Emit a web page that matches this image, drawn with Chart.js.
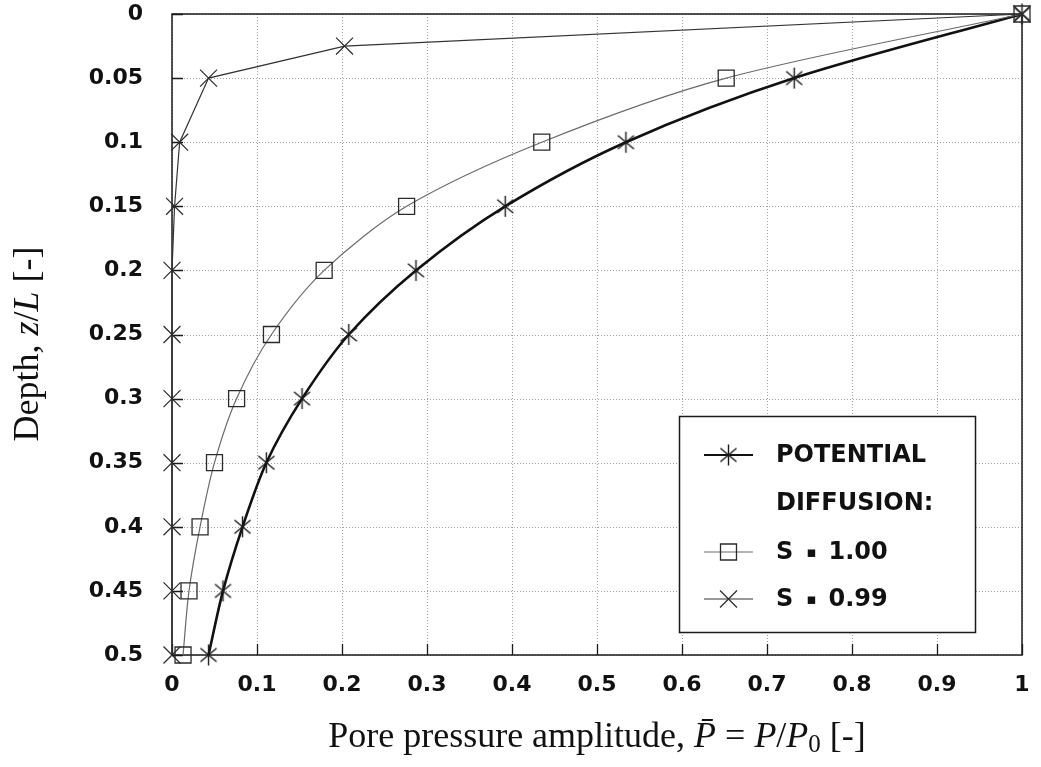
<!DOCTYPE html>
<html>
<head>
<meta charset="utf-8">
<script src="https://cdn.jsdelivr.net/npm/chart.js@4.4.1/dist/chart.umd.min.js"></script>
<style>
  html, body { margin: 0; padding: 0; background: #ffffff; }
  #plot { display: block; }
</style>
</head>
<body>
<canvas id="plot" width="1041" height="767"></canvas>
<script>
// Depth below the surface (z/L) at which the profiles are sampled
const depth = [0, 0.05, 0.1, 0.15, 0.2, 0.25, 0.3, 0.35, 0.4, 0.45, 0.5];
// Pore pressure amplitude P/P0, potential solution
const potential = [1, 0.732, 0.534, 0.392, 0.287, 0.208, 0.153, 0.111, 0.083, 0.060, 0.043];
// Pore pressure amplitude, diffusion solution with S = 1.00
const diffusionS100 = [1, 0.652, 0.435, 0.276, 0.179, 0.117, 0.076, 0.050, 0.033, 0.020, 0.013];
// Diffusion solution with S = 0.99 (extra sample at z/L = 0.025)
const depthS099 = [0, 0.025, 0.05, 0.1, 0.15, 0.2, 0.25, 0.3, 0.35, 0.4, 0.45, 0.5];
const diffusionS099 = [1, 0.203, 0.043, 0.009, 0.003, 0, 0, 0, 0, 0, 0, 0];

const xTickValues = [0, 0.1, 0.2, 0.3, 0.4, 0.5, 0.6, 0.7, 0.8, 0.9, 1];
const xTickLabels = ['0', '0.1', '0.2', '0.3', '0.4', '0.5', '0.6', '0.7', '0.8', '0.9', '1'];
const yTickValues = [0, 0.05, 0.1, 0.15, 0.2, 0.25, 0.3, 0.35, 0.4, 0.45, 0.5];
const yTickLabels = ['0', '0.05', '0.1', '0.15', '0.2', '0.25', '0.3', '0.35', '0.4', '0.45', '0.5'];
// legend rows: [name, value]; a small square bullet sits between them
const legendLabels = [['POTENTIAL', ''], ['DIFFUSION:', ''], ['S', '1.00'], ['S', '0.99']];

const SERIF = '"Liberation Serif", "DejaVu Serif", serif';
const TITLE_SIZE = 36;

// label lookup by tick value
function labelFor(values, labels, v) {
  let best = 0;
  values.forEach((t, i) => { if (Math.abs(t - v) < Math.abs(values[best] - v)) best = i; });
  return labels[best];
}

// Six-spoke asterisk marker used for the potential solution
function makeAsterisk(r, lw, color) {
  const size = Math.ceil(2 * r + 4);
  const c = document.createElement('canvas');
  c.width = size; c.height = size;
  const g = c.getContext('2d');
  const m = size / 2;
  g.strokeStyle = color;
  g.lineWidth = lw;
  g.beginPath();
  g.moveTo(m, m - r); g.lineTo(m, m + r);
  const a = 40 * Math.PI / 180;
  const dx = Math.cos(a) * r, dy = Math.sin(a) * r;
  g.moveTo(m - dx, m - dy); g.lineTo(m + dx, m + dy);
  g.moveTo(m - dx, m + dy); g.lineTo(m + dx, m - dy);
  g.stroke();
  return c;
}
const asterisk = makeAsterisk(10.5, 1.4, '#1a1a1a');

function toPoints(xs, ys) {
  return xs.map((v, i) => ({ x: v, y: ys[i] }));
}

// Draws a run of differently-styled text pieces along one baseline
function richWidth(ctx, segs) {
  let w = 0;
  for (const s of segs) { ctx.font = s.font; w += ctx.measureText(s.text).width; }
  return w;
}
function drawRich(ctx, segs, x, y) {
  let cx = x;
  for (const s of segs) {
    ctx.font = s.font;
    ctx.fillText(s.text, cx, y + (s.dy || 0));
    cx += ctx.measureText(s.text).width;
  }
}

const roman = `${TITLE_SIZE}px ${SERIF}`;
const italic = `italic ${TITLE_SIZE}px ${SERIF}`;
const small = `${Math.round(TITLE_SIZE * 0.7)}px ${SERIF}`;

const xTitle = [
  { text: 'Pore pressure amplitude, ', font: roman },
  { text: 'P\u0304', font: italic },
  { text: ' = ', font: roman },
  { text: 'P', font: italic },
  { text: '/', font: roman },
  { text: 'P', font: italic },
  { text: '0', font: small, dy: 5 },
  { text: ' [-]', font: roman }
];
const yTitle = [
  { text: 'Depth, ', font: roman },
  { text: 'z', font: italic },
  { text: '/', font: roman },
  { text: 'L', font: italic },
  { text: ' [-]', font: roman }
];

// Frame, dotted grid and inward tick marks
const framePlugin = {
  id: 'frame',
  beforeDatasetsDraw(chart) {
    const { ctx, chartArea: a, scales: { x, y } } = chart;
    ctx.save();
    ctx.strokeStyle = '#a0a0a0';
    ctx.lineWidth = 1;
    ctx.setLineDash([1, 2]);
    ctx.beginPath();
    x.ticks.forEach(t => {
      const px = Math.round(x.getPixelForValue(t.value)) + 0.5;
      ctx.moveTo(px, a.top); ctx.lineTo(px, a.bottom);
    });
    y.ticks.forEach(t => {
      const py = Math.round(y.getPixelForValue(t.value)) + 0.5;
      ctx.moveTo(a.left, py); ctx.lineTo(a.right, py);
    });
    ctx.stroke();
    ctx.setLineDash([]);
    ctx.strokeStyle = '#1a1a1a';
    ctx.lineWidth = 1.3;
    ctx.beginPath();
    x.ticks.forEach(t => {
      const px = Math.round(x.getPixelForValue(t.value)) + 0.5;
      ctx.moveTo(px, a.bottom); ctx.lineTo(px, a.bottom - 11);
    });
    y.ticks.forEach(t => {
      const py = Math.round(y.getPixelForValue(t.value)) + 0.5;
      ctx.moveTo(a.left, py); ctx.lineTo(a.left + 11, py);
    });
    ctx.stroke();
    ctx.lineWidth = 1.5;
    ctx.strokeRect(a.left, a.top, a.right - a.left, a.bottom - a.top);
    ctx.restore();
  }
};

// Boxed legend inside the plot and the two axis titles
const legendPlugin = {
  id: 'boxLegend',
  afterDraw(chart) {
    const { ctx, chartArea: a } = chart;
    const ds = chart.data.datasets;
    ctx.save();
    const bx = 679, by = 416, bw = 296, bh = 216;
    ctx.fillStyle = '#ffffff';
    ctx.fillRect(bx, by, bw, bh);
    ctx.strokeStyle = '#1a1a1a';
    ctx.lineWidth = 1.5;
    ctx.strokeRect(bx + 0.5, by + 0.5, bw, bh);

    const rows = [455, 503, 552, 599];
    const entries = [ds[2], null, ds[1], ds[0]];
    const x0 = 704, x1 = 753, xm = (x0 + x1) / 2;
    const legendFont = 'bold 24px "DejaVu Sans"';
    const bulletFont = 'bold 15px "DejaVu Sans"';
    entries.forEach((d, i) => {
      const yy = rows[i];
      if (d) {
        ctx.strokeStyle = d.borderColor;
        ctx.lineWidth = Math.min(d.borderWidth, 2.2);
        ctx.beginPath(); ctx.moveTo(x0, yy); ctx.lineTo(x1, yy); ctx.stroke();
        if (d.pointStyle instanceof HTMLCanvasElement) {
          ctx.drawImage(d.pointStyle, xm - d.pointStyle.width / 2, yy - d.pointStyle.height / 2);
        } else {
          ctx.fillStyle = 'rgba(0,0,0,0)';
          ctx.strokeStyle = d.pointBorderColor;
          ctx.lineWidth = d.pointBorderWidth;
          Chart.helpers.drawPoint(ctx, {
            pointStyle: d.pointStyle, radius: d.pointRadius, borderWidth: d.pointBorderWidth, rotation: 0
          }, xm, yy);
        }
      }
      ctx.fillStyle = '#111111';
      ctx.textBaseline = 'middle';
      ctx.textAlign = 'left';
      const [name, value] = legendLabels[i];
      ctx.font = legendFont;
      ctx.fillText(name, 776, yy + 1);
      if (value) {
        let tx = 776 + ctx.measureText(name).width + 13;
        ctx.font = bulletFont;
        ctx.fillText('\u25AA', tx, yy + 1);
        tx += ctx.measureText('\u25AA').width + 12;
        ctx.font = legendFont;
        ctx.fillText(value, tx, yy + 1);
      }
    });

    // axis titles
    ctx.fillStyle = '#111111';
    ctx.textBaseline = 'alphabetic';
    ctx.textAlign = 'left';
    const cx = (a.left + a.right) / 2;
    const wx = richWidth(ctx, xTitle);
    drawRich(ctx, xTitle, cx - wx / 2, 747);

    ctx.translate(38, 344);
    ctx.rotate(-Math.PI / 2);
    const wy = richWidth(ctx, yTitle);
    drawRich(ctx, yTitle, -wy / 2, 0);
    ctx.restore();
  }
};

const chart = new Chart(document.getElementById('plot'), {
  type: 'scatter',
  data: {
    datasets: [
      {
        label: 'S = 0.99',
        data: toPoints(diffusionS099, depthS099),
        showLine: true,
        tension: 0,
        borderColor: '#333333',
        borderWidth: 1.2,
        pointStyle: 'crossRot',
        pointRadius: 12,
        pointHoverRadius: 12,
        pointBorderColor: '#2a2a2a',
        pointBorderWidth: 1.2,
        pointBackgroundColor: 'rgba(0,0,0,0)',
        clip: false
      },
      {
        label: 'S = 1.00',
        data: toPoints(diffusionS100, depth),
        showLine: true,
        tension: 0.3,
        borderColor: '#6a6a6a',
        borderWidth: 1.2,
        pointStyle: 'rect',
        pointRadius: 11.3,
        pointHoverRadius: 11.3,
        pointBorderColor: '#2a2a2a',
        pointBorderWidth: 1.3,
        pointBackgroundColor: 'rgba(0,0,0,0)',
        clip: false
      },
      {
        label: 'POTENTIAL',
        data: toPoints(potential, depth),
        showLine: true,
        tension: 0.3,
        borderColor: '#111111',
        borderWidth: 2.6,
        pointStyle: asterisk,
        pointRadius: 11,
        pointHoverRadius: 11,
        clip: false
      }
    ]
  },
  options: {
    responsive: false,
    animation: false,
    devicePixelRatio: 1,
    layout: { padding: { left: 0, top: 14, right: 19, bottom: 0 } },
    plugins: { legend: { display: false }, tooltip: { enabled: false } },
    scales: {
      x: {
        type: 'linear',
        min: 0, max: 1,
        grid: { display: false, drawTicks: false },
        border: { display: false },
        ticks: {
          stepSize: 0.1,
          padding: 17,
          color: '#111111',
          font: { family: 'DejaVu Sans', size: 22, weight: 'bold' },
          maxRotation: 0,
          callback: v => labelFor(xTickValues, xTickLabels, v)
        },
        afterFit(scale) {
          scale.height = 112;
          scale.paddingLeft = 0; scale.paddingRight = 0;
        }
      },
      y: {
        type: 'linear',
        reverse: true,
        min: 0, max: 0.5,
        grid: { display: false, drawTicks: false },
        border: { display: false },
        ticks: {
          stepSize: 0.05,
          padding: 29,
          color: '#111111',
          font: { family: 'DejaVu Sans', size: 22, weight: 'bold' },
          callback: v => labelFor(yTickValues, yTickLabels, v)
        },
        afterFit(scale) {
          scale.width = 172;
          scale.paddingTop = 0; scale.paddingBottom = 0;
        }
      }
    }
  },
  plugins: [framePlugin, legendPlugin]
});
</script>
</body>
</html>
